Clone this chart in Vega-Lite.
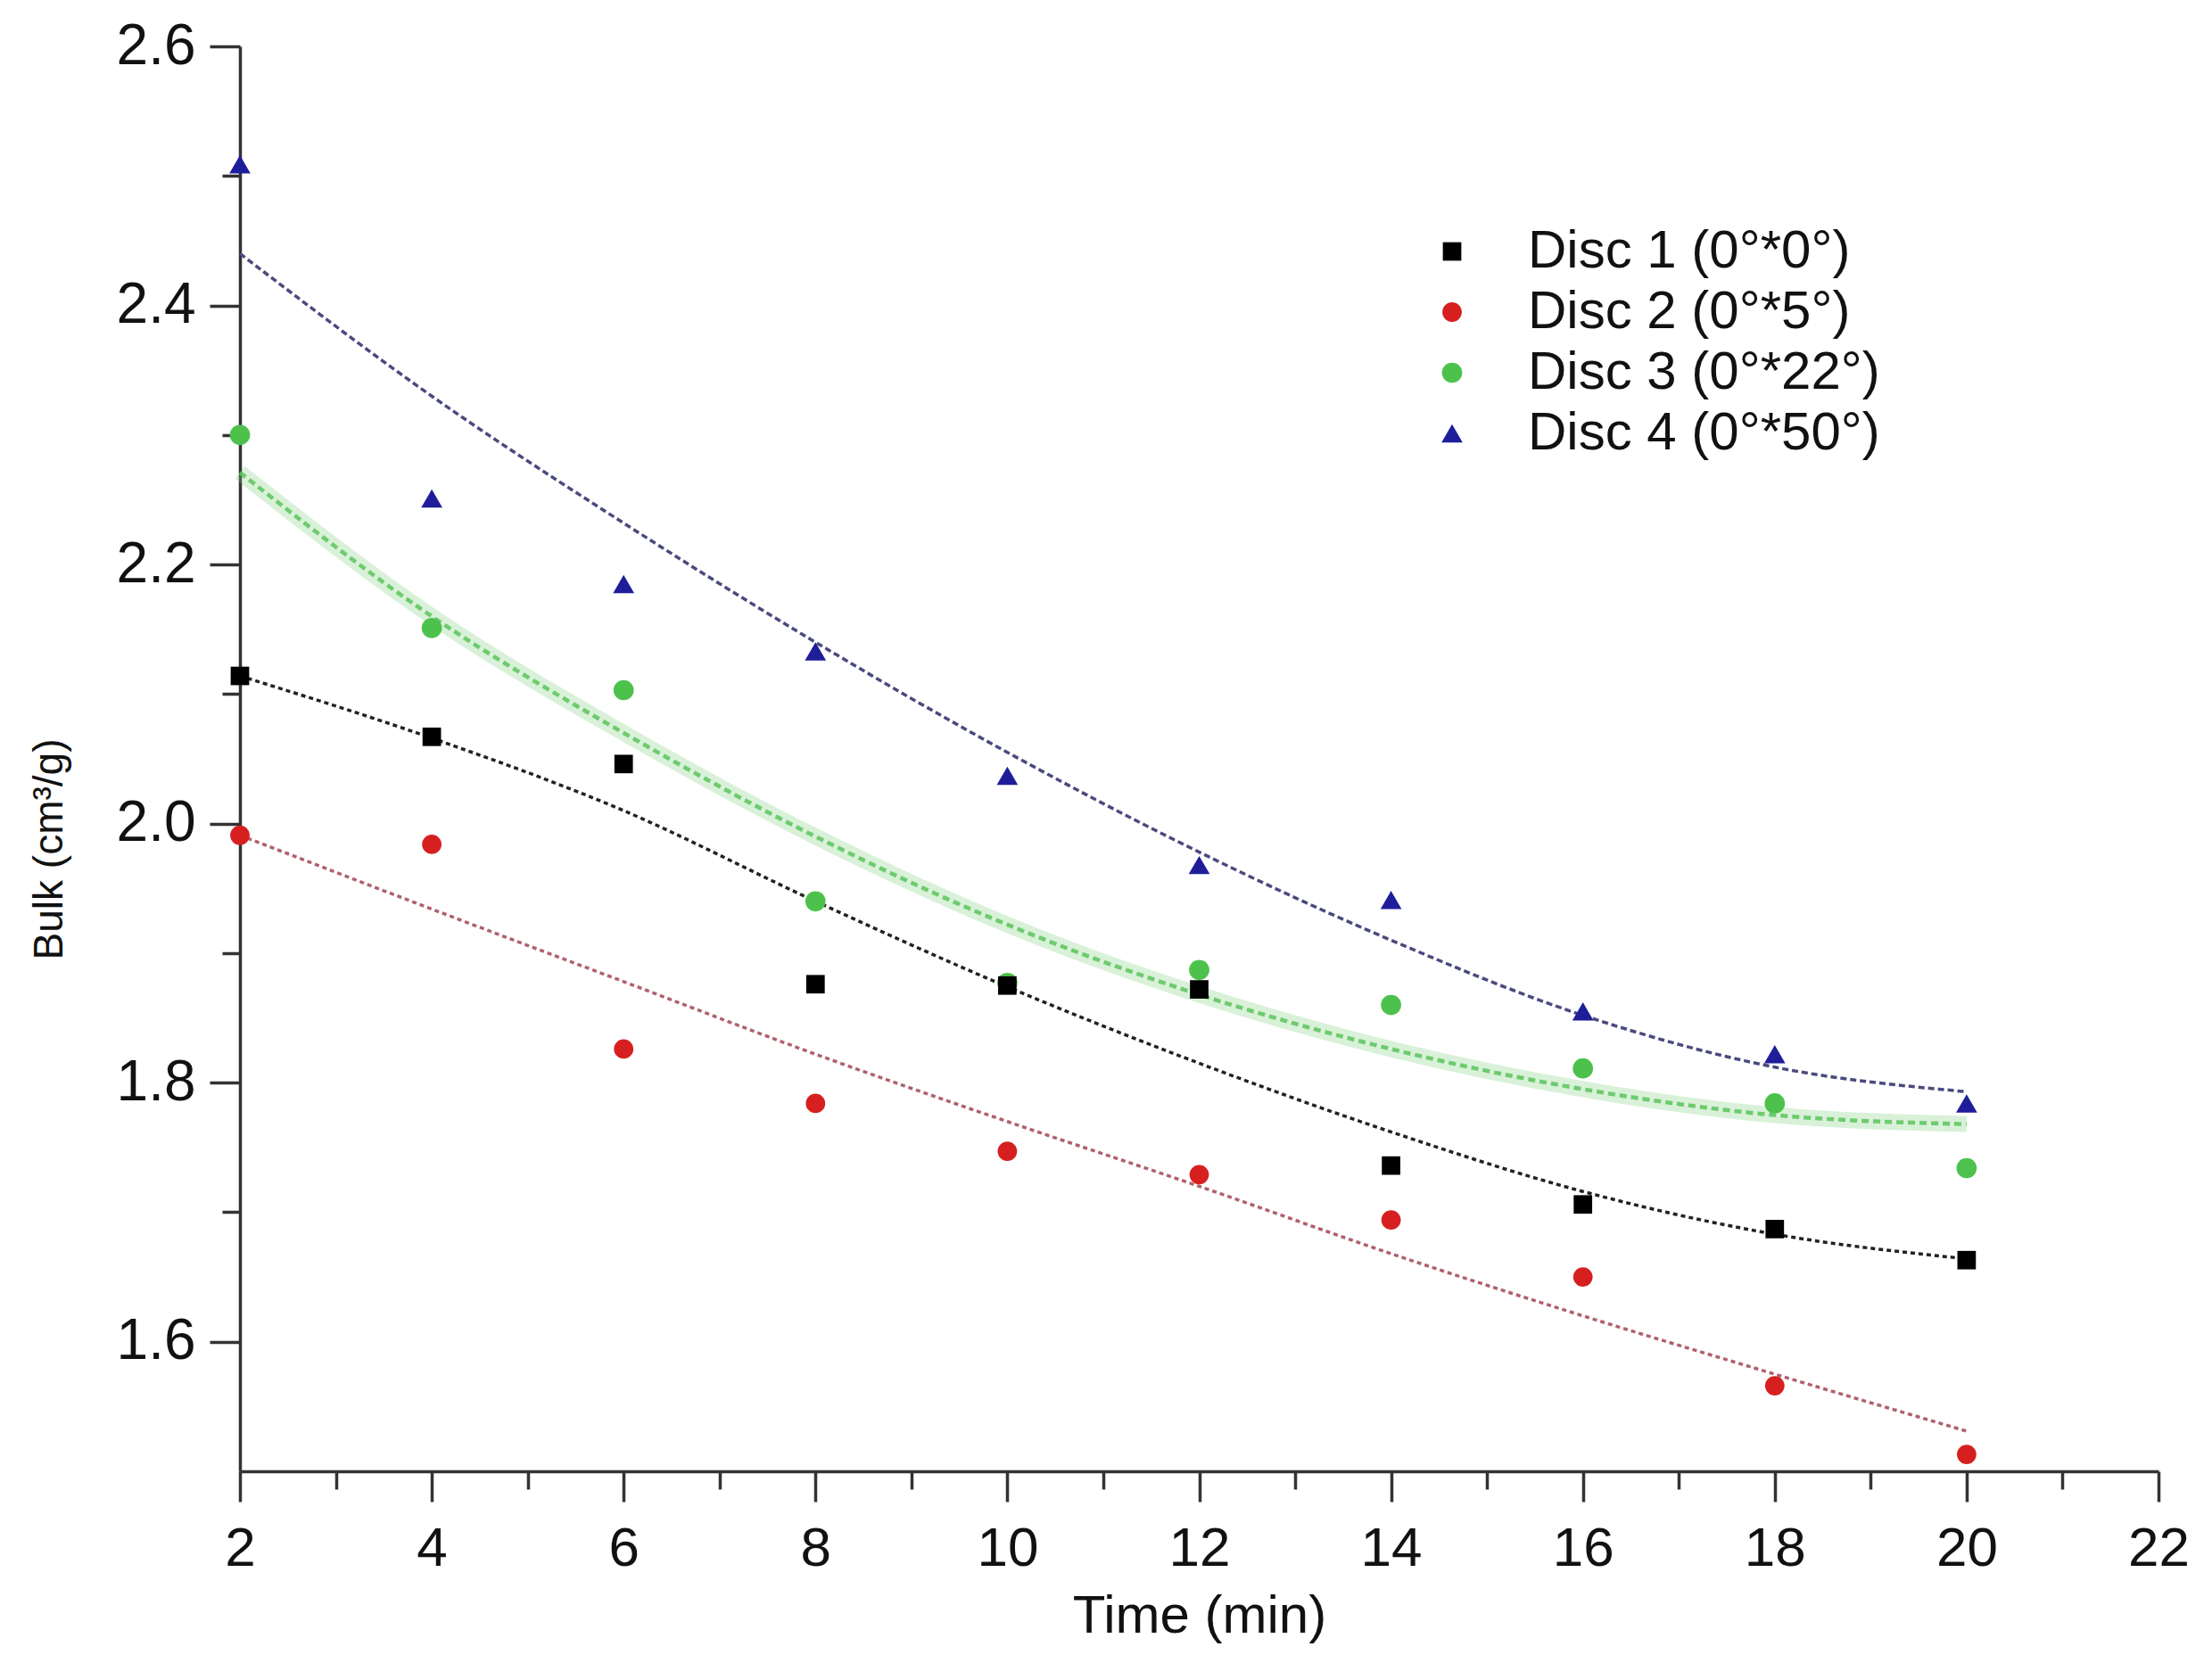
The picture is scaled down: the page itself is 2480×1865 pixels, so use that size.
{
  "$schema": "https://vega.github.io/schema/vega-lite/v6.json",
  "width": 2151,
  "height": 1598,
  "autosize": {"type": "none"},
  "padding": {"left": 269, "top": 52, "right": 60, "bottom": 215},
  "background": "white",
  "config": {
    "view": {"stroke": null},
    "font": "Liberation Sans",
    "axis": {"grid": false, "domainColor": "#333333", "domainWidth": 3.5, "tickColor": "#333333", "tickWidth": 3.5, "labelColor": "#111111", "titleColor": "#111111", "labelFont": "Liberation Sans", "titleFont": "Liberation Sans", "titleFontWeight": "normal", "labelFlush": false}
  },
  "datasets": {
    "pts": [
      {"disc": "Disc 3", "time": 2, "bulk": 2.300},
      {"disc": "Disc 3", "time": 4, "bulk": 2.151},
      {"disc": "Disc 3", "time": 6, "bulk": 2.103},
      {"disc": "Disc 3", "time": 8, "bulk": 1.940},
      {"disc": "Disc 3", "time": 10, "bulk": 1.877},
      {"disc": "Disc 3", "time": 12, "bulk": 1.887},
      {"disc": "Disc 3", "time": 14, "bulk": 1.860},
      {"disc": "Disc 3", "time": 16, "bulk": 1.811},
      {"disc": "Disc 3", "time": 18, "bulk": 1.784},
      {"disc": "Disc 3", "time": 20, "bulk": 1.734},
      {"disc": "Disc 1", "time": 2, "bulk": 2.114},
      {"disc": "Disc 1", "time": 4, "bulk": 2.067},
      {"disc": "Disc 1", "time": 6, "bulk": 2.046},
      {"disc": "Disc 1", "time": 8, "bulk": 1.876},
      {"disc": "Disc 1", "time": 10, "bulk": 1.875},
      {"disc": "Disc 1", "time": 12, "bulk": 1.872},
      {"disc": "Disc 1", "time": 14, "bulk": 1.736},
      {"disc": "Disc 1", "time": 16, "bulk": 1.706},
      {"disc": "Disc 1", "time": 18, "bulk": 1.687},
      {"disc": "Disc 1", "time": 20, "bulk": 1.663},
      {"disc": "Disc 2", "time": 2, "bulk": 1.991},
      {"disc": "Disc 2", "time": 4, "bulk": 1.984},
      {"disc": "Disc 2", "time": 6, "bulk": 1.826},
      {"disc": "Disc 2", "time": 8, "bulk": 1.784},
      {"disc": "Disc 2", "time": 10, "bulk": 1.747},
      {"disc": "Disc 2", "time": 12, "bulk": 1.729},
      {"disc": "Disc 2", "time": 14, "bulk": 1.694},
      {"disc": "Disc 2", "time": 16, "bulk": 1.650},
      {"disc": "Disc 2", "time": 18, "bulk": 1.566},
      {"disc": "Disc 2", "time": 20, "bulk": 1.513},
      {"disc": "Disc 4", "time": 2, "bulk": 2.509},
      {"disc": "Disc 4", "time": 4, "bulk": 2.251},
      {"disc": "Disc 4", "time": 6, "bulk": 2.185},
      {"disc": "Disc 4", "time": 8, "bulk": 2.133},
      {"disc": "Disc 4", "time": 10, "bulk": 2.037},
      {"disc": "Disc 4", "time": 12, "bulk": 1.968},
      {"disc": "Disc 4", "time": 14, "bulk": 1.941},
      {"disc": "Disc 4", "time": 16, "bulk": 1.855},
      {"disc": "Disc 4", "time": 18, "bulk": 1.822},
      {"disc": "Disc 4", "time": 20, "bulk": 1.784}
    ],
    "fits": [
      {"disc": "Disc 1", "time": 2, "bulk": 2.114},
      {"disc": "Disc 1", "time": 4, "bulk": 2.066},
      {"disc": "Disc 1", "time": 6, "bulk": 2.010},
      {"disc": "Disc 1", "time": 8, "bulk": 1.940},
      {"disc": "Disc 1", "time": 10, "bulk": 1.874},
      {"disc": "Disc 1", "time": 12, "bulk": 1.815},
      {"disc": "Disc 1", "time": 14, "bulk": 1.762},
      {"disc": "Disc 1", "time": 16, "bulk": 1.716},
      {"disc": "Disc 1", "time": 18, "bulk": 1.683},
      {"disc": "Disc 1", "time": 20, "bulk": 1.664},
      {"disc": "Disc 2", "time": 2, "bulk": 1.991},
      {"disc": "Disc 2", "time": 4, "bulk": 1.934},
      {"disc": "Disc 2", "time": 6, "bulk": 1.878},
      {"disc": "Disc 2", "time": 8, "bulk": 1.822},
      {"disc": "Disc 2", "time": 10, "bulk": 1.770},
      {"disc": "Disc 2", "time": 12, "bulk": 1.720},
      {"disc": "Disc 2", "time": 14, "bulk": 1.668},
      {"disc": "Disc 2", "time": 16, "bulk": 1.620},
      {"disc": "Disc 2", "time": 18, "bulk": 1.575},
      {"disc": "Disc 2", "time": 20, "bulk": 1.531},
      {"disc": "Disc 3", "time": 2, "bulk": 2.271},
      {"disc": "Disc 3", "time": 4, "bulk": 2.160},
      {"disc": "Disc 3", "time": 6, "bulk": 2.070},
      {"disc": "Disc 3", "time": 8, "bulk": 1.990},
      {"disc": "Disc 3", "time": 10, "bulk": 1.922},
      {"disc": "Disc 3", "time": 12, "bulk": 1.868},
      {"disc": "Disc 3", "time": 14, "bulk": 1.826},
      {"disc": "Disc 3", "time": 16, "bulk": 1.795},
      {"disc": "Disc 3", "time": 18, "bulk": 1.775},
      {"disc": "Disc 3", "time": 20, "bulk": 1.768},
      {"disc": "Disc 4", "time": 2, "bulk": 2.440},
      {"disc": "Disc 4", "time": 4, "bulk": 2.330},
      {"disc": "Disc 4", "time": 6, "bulk": 2.232},
      {"disc": "Disc 4", "time": 8, "bulk": 2.140},
      {"disc": "Disc 4", "time": 10, "bulk": 2.055},
      {"disc": "Disc 4", "time": 12, "bulk": 1.978},
      {"disc": "Disc 4", "time": 14, "bulk": 1.910},
      {"disc": "Disc 4", "time": 16, "bulk": 1.852},
      {"disc": "Disc 4", "time": 18, "bulk": 1.812},
      {"disc": "Disc 4", "time": 20, "bulk": 1.793}
    ]
  },
  "resolve": {"axis": {"x": "independent", "y": "independent"}},
  "layer": [
    {
      "data": {"name": "fits"},
      "transform": [{"filter": "datum.disc === 'Disc 3'"}],
      "mark": {"type": "line", "interpolate": "monotone", "color": "#7fd07f", "strokeWidth": 18, "opacity": 0.3},
      "encoding": {
        "x": {"field": "time", "type": "quantitative", "scale": {"domain": [2, 22], "nice": false, "zero": false},
              "axis": {"orient": "bottom", "values": [3, 5, 7, 9, 11, 13, 15, 17, 19, 21], "labels": false, "domain": false, "tickSize": 20, "title": null}},
        "y": {"field": "bulk", "type": "quantitative", "scale": {"domain": [1.5, 2.6], "nice": false, "zero": false},
              "axis": {"orient": "left", "values": [1.7, 1.9, 2.1, 2.3, 2.5], "labels": false, "domain": false, "tickSize": 20, "title": null}}
      }
    },
    {
      "data": {"name": "fits"},
      "transform": [{"filter": "datum.disc === 'Disc 3'"}],
      "mark": {"type": "line", "interpolate": "monotone", "color": "#5cc45c", "strokeWidth": 4.5, "strokeDash": [8, 5], "opacity": 0.85},
      "encoding": {
        "x": {"field": "time", "type": "quantitative", "axis": null},
        "y": {"field": "bulk", "type": "quantitative", "axis": null}
      }
    },
    {
      "data": {"name": "fits"},
      "transform": [{"filter": "datum.disc === 'Disc 1'"}],
      "mark": {"type": "line", "interpolate": "monotone", "color": "#222222", "strokeWidth": 3.5, "strokeDash": [5, 4]},
      "encoding": {
        "x": {"field": "time", "type": "quantitative", "axis": null},
        "y": {"field": "bulk", "type": "quantitative", "axis": null}
      }
    },
    {
      "data": {"name": "fits"},
      "transform": [{"filter": "datum.disc === 'Disc 2'"}],
      "mark": {"type": "line", "interpolate": "monotone", "color": "#b0606c", "strokeWidth": 3.5, "strokeDash": [5, 4]},
      "encoding": {
        "x": {"field": "time", "type": "quantitative", "axis": null},
        "y": {"field": "bulk", "type": "quantitative", "axis": null}
      }
    },
    {
      "data": {"name": "fits"},
      "transform": [{"filter": "datum.disc === 'Disc 4'"}],
      "mark": {"type": "line", "interpolate": "monotone", "color": "#4a4a7e", "strokeWidth": 3.5, "strokeDash": [7, 4]},
      "encoding": {
        "x": {"field": "time", "type": "quantitative", "axis": null},
        "y": {"field": "bulk", "type": "quantitative", "axis": null}
      }
    },
    {
      "data": {"name": "pts"},
      "mark": {"type": "point", "filled": true, "opacity": 1},
      "encoding": {
        "x": {"field": "time", "type": "quantitative",
              "axis": {"orient": "bottom", "values": [2, 4, 6, 8, 10, 12, 14, 16, 18, 20, 22], "tickSize": 34, "labelFontSize": 62, "labelPadding": 22, "title": "Time (min)", "titleFontSize": 60, "titlePadding": 16}},
        "y": {"field": "bulk", "type": "quantitative",
              "axis": {"orient": "left", "values": [1.6, 1.8, 2.0, 2.2, 2.4, 2.6], "format": ".1f", "tickSize": 34, "labelFontSize": 64, "labelPadding": 16, "title": "Bulk (cm\u00b3/g)", "titleFontSize": 46, "titleAngle": 270, "titleX": -214, "titleY": 900, "titleAlign": "center", "titleBaseline": "middle"}},
        "color": {"field": "disc", "type": "nominal",
                  "scale": {"domain": ["Disc 1", "Disc 2", "Disc 3", "Disc 4"], "range": ["#000000", "#d62020", "#4cc24c", "#1e1e9a"]},
                  "legend": {"title": null, "orient": "none", "legendX": 1329, "legendY": 200, "labelFontSize": 60, "labelLimit": 700, "labelColor": "#111111", "symbolSize": 460, "labelOffset": 55, "rowPadding": 8, "symbolStrokeWidth": 0,
                             "labelExpr": "{'Disc 1': 'Disc 1 (0\u00b0*0\u00b0)', 'Disc 2': 'Disc 2 (0\u00b0*5\u00b0)', 'Disc 3': 'Disc 3 (0\u00b0*22\u00b0)', 'Disc 4': 'Disc 4 (0\u00b0*50\u00b0)'}[datum.value]"}},
        "shape": {"field": "disc", "type": "nominal",
                  "scale": {"domain": ["Disc 1", "Disc 2", "Disc 3", "Disc 4"], "range": ["square", "circle", "circle", "triangle-up"]}},
        "size": {"field": "disc", "type": "nominal", "legend": null,
                 "scale": {"domain": ["Disc 1", "Disc 2", "Disc 3", "Disc 4"], "range": [430, 560, 560, 1000]}}
      }
    }
  ]
}
